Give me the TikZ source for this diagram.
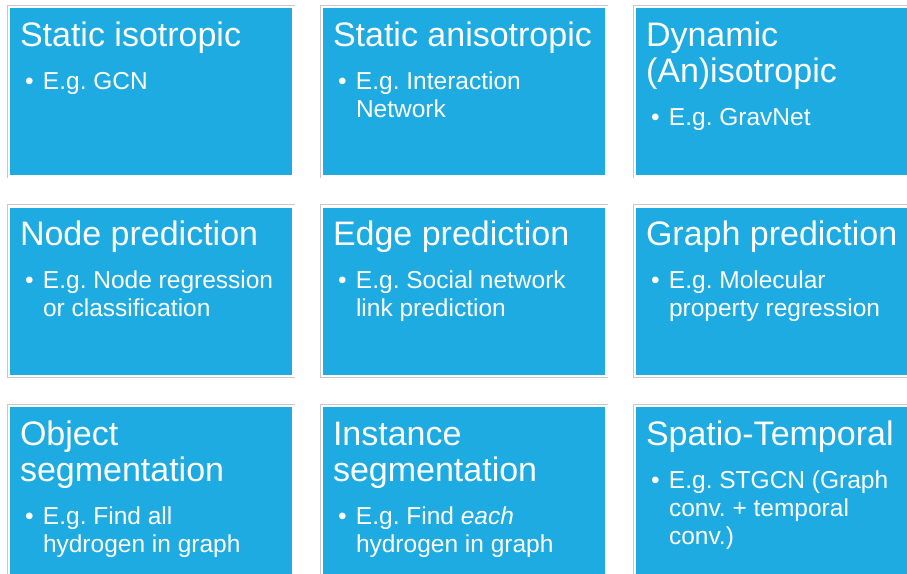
\documentclass[tikz,border=0pt]{standalone}
\usepackage{fontspec}
\setmainfont{Liberation Sans}
\usetikzlibrary{positioning}
\definecolor{tileblue}{RGB}{30,171,226}
\definecolor{framegray}{RGB}{200,200,200}
\frenchspacing

\newcommand{\tiletext}[2]{%
	\begin{minipage}[t][167pt][t]{262pt}
		\fontsize{34}{36}\selectfont\rule{0pt}{38pt}#1\par
		\vspace{15pt}
		\fontsize{24.5}{28}\selectfont\hangindent=23pt\hangafter=1\noindent\makebox[23pt][l]{\hspace{5pt}\textbullet}#2\par
	\end{minipage}}

\begin{document}
\begin{tikzpicture}[x=1pt, y=-1pt, node distance=32.5pt and 31pt,
	tile/.style={rectangle, fill=tileblue, text=white, inner xsep=10pt, inner ysep=0pt, outer sep=0pt, anchor=north west,
		preaction={draw=framegray, line width=6.6pt},
		preaction={draw=white, line width=5pt}}]
	
	\useasboundingbox (0,0) rectangle (907,573);
	\clip (0,0) rectangle (907,573);
	
	\node[tile] (iso) at (10,8) {\tiletext{Static isotropic}{E.g. GCN}};
	\node[tile, right=of iso] (aniso) {\tiletext{Static anisotropic}{E.g. Interaction\newline Network}};
	\node[tile, right=of aniso] (dyn) {\tiletext{Dynamic\newline (An)isotropic}{E.g. GravNet}};
	
	\node[tile, below=of iso] (npred) {\tiletext{Node prediction}{E.g. Node regression\newline or classification}};
	\node[tile, right=of npred] (epred) {\tiletext{Edge prediction}{E.g. Social network\newline link prediction}};
	\node[tile, right=of epred] (gpred) {\tiletext{Graph prediction}{E.g. Molecular\newline property regression}};
	
	\node[tile, below=of npred] (oseg) {\tiletext{Object\newline segmentation}{E.g. Find all\newline hydrogen in graph}};
	\node[tile, right=of oseg] (iseg) {\tiletext{Instance\newline segmentation}{E.g. Find \emph{each}\newline hydrogen in graph}};
	\node[tile, right=of iseg] (spt) {\tiletext{Spatio-Temporal}{E.g. STGCN (Graph\newline conv. + temporal\newline conv.)}};
	
\end{tikzpicture}
\end{document}
